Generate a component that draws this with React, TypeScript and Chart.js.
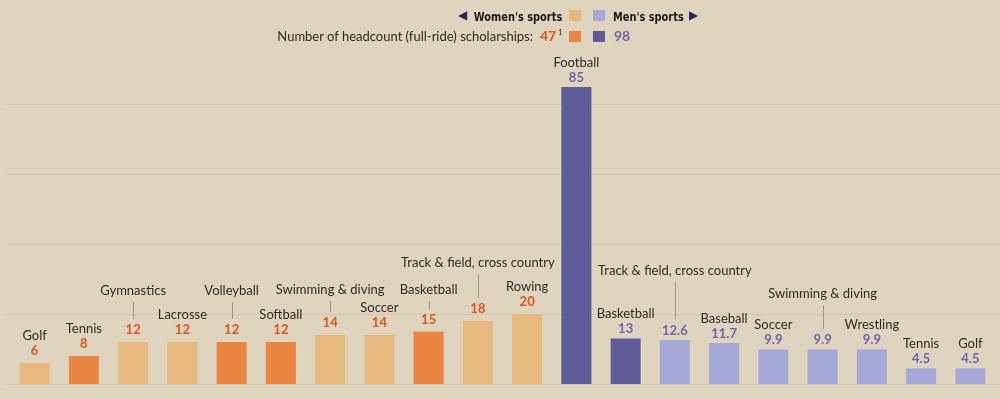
import React, { useEffect, useRef } from "react";
import { Chart, registerables } from "chart.js";

Chart.register(...registerables);

// ---- data ----
const sports = [
  "Golf", "Tennis", "Gymnastics", "Lacrosse", "Volleyball", "Softball",
  "Swimming & diving", "Soccer", "Basketball", "Track & field, cross country", "Rowing",
  "Football", "Basketball", "Track & field, cross country", "Baseball", "Soccer",
  "Swimming & diving", "Wrestling", "Tennis", "Golf",
];
const scholarships = [6, 8, 12, 12, 12, 12, 14, 14, 15, 18, 20, 85, 13, 12.6, 11.7, 9.9, 9.9, 9.9, 4.5, 4.5];
const gender = [
  "W", "W", "W", "W", "W", "W", "W", "W", "W", "W", "W",
  "M", "M", "M", "M", "M", "M", "M", "M", "M",
];
const fullRide = [
  false, true, false, false, true, true, false, false, true, false, false,
  true, true, false, false, false, false, false, false, false,
];
const gridValues = [0, 20, 40, 60, 80];
const womenHeadcount = 47;
const menHeadcount = 98;

// ---- layout (label lift for leader lines, px) ----
const labelLift = [0, 0, 24, 0, 24, 0, 18, 0, 15, 31, 0, 0, 0, 45, 0, 0, 31, 0, 0, 0];

const COLORS = {
  bg: "#DFD5BF",
  grid: "#D2C8B1",
  wLight: "#E8B97F",
  wDark: "#EB8642",
  mLight: "#A4A9D8",
  mDark: "#5F5B99",
  wText: "#E0531F",
  mText: "#6B66AE",
  name: "#2E2B26",
  leader: "#9E978A",
  arrow: "#1F2553",
};

const FONT = "Lato";

const gridPlugin = {
  id: "customGrid",
  beforeDatasetsDraw(chart: any) {
    const ctx = chart.ctx;
    const y = chart.scales.y;
    ctx.save();
    ctx.strokeStyle = COLORS.grid;
    ctx.lineWidth = 1;
    gridValues.forEach((v) => {
      const py = Math.round(y.getPixelForValue(v)) + 0.5;
      ctx.beginPath();
      ctx.moveTo(6, py);
      ctx.lineTo(chart.width, py);
      ctx.stroke();
    });
    ctx.restore();
  },
};

const labelPlugin = {
  id: "barLabels",
  afterDatasetsDraw(chart: any) {
    const ctx = chart.ctx;
    const meta = chart.getDatasetMeta(0);
    ctx.save();
    ctx.textAlign = "center";
    ctx.textBaseline = "middle";
    meta.data.forEach((bar: any, i: number) => {
      const isW = gender[i] === "W";
      const x = bar.x;
      const top = bar.y;
      const valueY = top - (isW ? 12 : 9.5);
      ctx.font = `bold 13px ${FONT}`;
      ctx.fillStyle = isW ? COLORS.wText : COLORS.mText;
      ctx.fillText(String(scholarships[i]), x, valueY);
      const lift = labelLift[i];
      const nameY = valueY - 15 - lift;
      ctx.font = `13px ${FONT}`;
      ctx.fillStyle = COLORS.name;
      ctx.fillText(sports[i], x, nameY);
      if (lift > 0) {
        ctx.strokeStyle = COLORS.leader;
        ctx.lineWidth = 1;
        const lx = Math.round(x) + 0.5;
        ctx.beginPath();
        ctx.moveTo(lx, nameY + 11);
        ctx.lineTo(lx, valueY - 11);
        ctx.stroke();
      }
    });
    ctx.restore();
  },
};

function barColor(i: number) {
  if (gender[i] === "W") return fullRide[i] ? COLORS.wDark : COLORS.wLight;
  return fullRide[i] ? COLORS.mDark : COLORS.mLight;
}

const abs = (extra: React.CSSProperties): React.CSSProperties => ({
  position: "absolute",
  whiteSpace: "nowrap",
  height: 20,
  lineHeight: "20px",
  ...extra,
});

export default function App() {
  const canvasRef = useRef<HTMLCanvasElement | null>(null);

  useEffect(() => {
    document.body.style.margin = "0";
    const canvas = canvasRef.current;
    if (!canvas) return;
    const chart = new Chart(canvas, {
      type: "bar",
      data: {
        labels: sports.map((s, i) => `${s}-${i}`),
        datasets: [
          {
            data: scholarships,
            backgroundColor: scholarships.map((_, i) => barColor(i)),
            borderWidth: 0,
            barPercentage: 0.61,
            categoryPercentage: 1,
          },
        ],
      },
      options: {
        animation: false,
        responsive: false,
        devicePixelRatio: 1,
        layout: { padding: { left: 10, right: 5, top: 87, bottom: 15 } },
        plugins: { legend: { display: false }, tooltip: { enabled: false } },
        scales: {
          x: { display: false },
          y: { display: false, min: 0, max: 85 },
        },
      },
      plugins: [gridPlugin, labelPlugin],
    });
    return () => chart.destroy();
  }, []);

  const sq = (left: number, top: number, color: string): React.CSSProperties => ({
    position: "absolute",
    left,
    top,
    width: 12,
    height: 11,
    background: color,
  });

  const legendBold: React.CSSProperties = {
    fontFamily: `"DejaVu Sans Condensed", "DejaVu Sans", sans-serif`,
    fontWeight: "bold",
    fontSize: 13,
    color: "#1A1A1A",
    display: "inline-block",
  };
  const arrowStyle: React.CSSProperties = {
    position: "absolute",
    fontFamily: "DejaVu Sans",
    fontSize: 12,
    color: COLORS.arrow,
    height: 20,
    lineHeight: "20px",
  };

  return (
    <div
      style={{
        position: "absolute",
        left: 0,
        top: 0,
        width: 1000,
        height: 399,
        background: COLORS.bg,
        overflow: "hidden",
        fontFamily: FONT,
      }}
    >
      <canvas ref={canvasRef} width={1000} height={399} style={{ position: "absolute", left: 0, top: 0 }} />
      {/* legend row 1 */}
      <span style={{ ...arrowStyle, left: 458, top: 5 }}>◀</span>
      <div style={abs({ right: 438, top: 5 })}>
        <span style={{ ...legendBold, transform: "scaleX(0.84)", transformOrigin: "right center" }}>Women's sports</span>
      </div>
      <div style={sq(569, 10, COLORS.wLight)} />
      <div style={sq(593, 10, COLORS.mLight)} />
      <div style={abs({ left: 613, top: 5 })}>
        <span style={{ ...legendBold, transform: "scaleX(0.84)", transformOrigin: "left center" }}>Men's sports</span>
      </div>
      <span style={{ ...arrowStyle, left: 689, top: 5 }}>▶</span>
      {/* legend row 2 */}
      <div style={abs({ right: 467, top: 26, fontSize: 13, color: COLORS.name })}>
        Number of headcount (full-ride) scholarships:
      </div>
      <div style={abs({ left: 540, top: 26, fontSize: 14, fontWeight: "bold", color: COLORS.wText })}>
        {womenHeadcount}
      </div>
      <div style={abs({ left: 558, top: 22, fontSize: 8, color: COLORS.name })}>1</div>
      <div style={sq(569, 31, COLORS.wDark)} />
      <div style={sq(593, 31, COLORS.mDark)} />
      <div style={abs({ left: 614, top: 26, fontSize: 14, fontWeight: "bold", color: COLORS.mText })}>
        {menHeadcount}
      </div>
    </div>
  );
}
